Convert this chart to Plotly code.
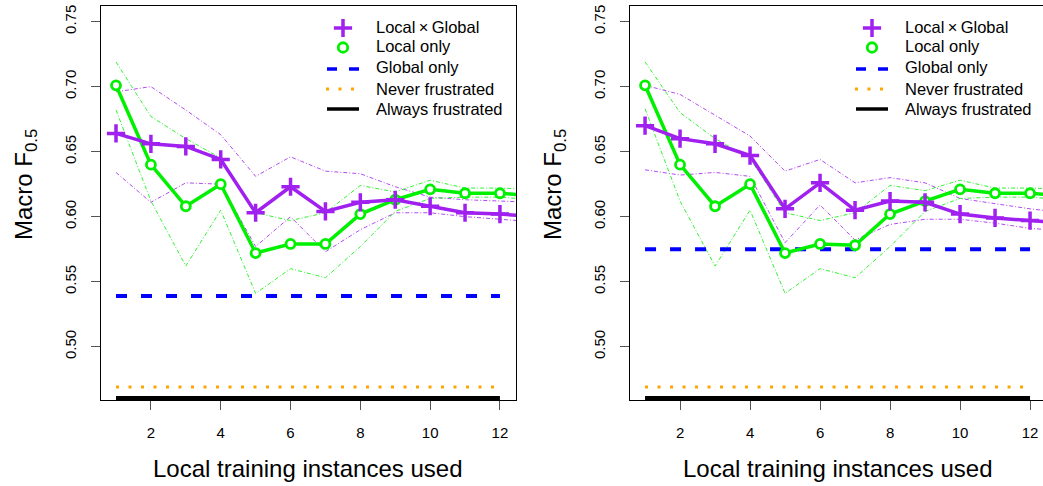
import plotly.graph_objects as go

# --- data ---
steps = list(range(1, 14))  # last point lies past the axis and is clipped

left_lxg = [0.664, 0.656, 0.654, 0.644, 0.603, 0.623, 0.604, 0.611, 0.613, 0.608, 0.603, 0.602, 0.600]
left_lxg_hi = [0.696, 0.700, 0.682, 0.663, 0.631, 0.646, 0.635, 0.633, 0.623, 0.615, 0.613, 0.612, 0.611]
left_lxg_lo = [0.634, 0.611, 0.626, 0.625, 0.577, 0.600, 0.573, 0.590, 0.603, 0.603, 0.600, 0.598, 0.596]
left_local = [0.701, 0.640, 0.608, 0.625, 0.572, 0.579, 0.579, 0.602, 0.613, 0.621, 0.618, 0.618, 0.616]
left_local_hi = [0.719, 0.677, 0.660, 0.645, 0.603, 0.597, 0.603, 0.624, 0.619, 0.628, 0.622, 0.622, 0.621]
left_local_lo = [0.682, 0.612, 0.562, 0.605, 0.541, 0.560, 0.553, 0.577, 0.604, 0.614, 0.615, 0.615, 0.613]
left_global = 0.539

right_lxg = [0.670, 0.660, 0.656, 0.647, 0.606, 0.626, 0.605, 0.612, 0.611, 0.602, 0.599, 0.597, 0.595]
right_lxg_hi = [0.701, 0.694, 0.678, 0.662, 0.635, 0.644, 0.626, 0.630, 0.626, 0.614, 0.610, 0.606, 0.603]
right_lxg_lo = [0.636, 0.632, 0.634, 0.631, 0.580, 0.609, 0.582, 0.594, 0.598, 0.598, 0.595, 0.591, 0.589]
right_local = [0.701, 0.640, 0.608, 0.625, 0.572, 0.579, 0.578, 0.602, 0.612, 0.621, 0.618, 0.618, 0.616]
right_local_hi = [0.719, 0.680, 0.660, 0.645, 0.603, 0.597, 0.603, 0.624, 0.620, 0.628, 0.622, 0.622, 0.621]
right_local_lo = [0.683, 0.612, 0.562, 0.605, 0.541, 0.560, 0.553, 0.577, 0.604, 0.614, 0.615, 0.615, 0.613]
right_global = 0.575

never_frustrated = 0.469
always_frustrated = 0.4605

y_ticks = [0.50, 0.55, 0.60, 0.65, 0.70, 0.75]
x_ticks = [2, 4, 6, 8, 10, 12]
legend_labels = ['Local\u2009\u00d7\u2009Global', 'Local only', 'Global only',
                 'Never frustrated', 'Always frustrated']

COLORS = {
    'lxg': '#A020F0',
    'local': '#00F000',
    'global': '#0000FF',
    'never': '#FFA500',
    'always': '#000000',
}
FONT = "Liberation Sans, Arial, Helvetica, sans-serif"

W, H = 1043, 486

STYLE = {
    'lxg_marker': dict(symbol='cross-thin', size=13, line=dict(color=COLORS['lxg'], width=3.5)),
    'local_marker': dict(symbol='circle', size=9, color='white', line=dict(color=COLORS['local'], width=2.8)),
    'global_line': dict(color=COLORS['global'], width=4, dash='11px,14px'),
    'never_line': dict(color=COLORS['never'], width=3, dash='3px,9.5px'),
    'always_line': dict(color=COLORS['always'], width=4),
}


def px_x(p):
    return p / W


def px_y(p):
    return 1 - p / H


fig = go.Figure()


def add_panel(xa, ya, lxg, lxg_hi, lxg_lo, local, local_hi, local_lo, global_val):
    flat_x = steps[:12]
    # confidence bands
    for vals, col in [(lxg_hi, COLORS['lxg']), (lxg_lo, COLORS['lxg']),
                      (local_hi, COLORS['local']), (local_lo, COLORS['local'])]:
        fig.add_trace(go.Scatter(x=steps, y=vals, xaxis=xa, yaxis=ya, mode='lines',
                                 line=dict(color=col, width=1, dash='4px,2px,1px,2px'),
                                 opacity=0.8, showlegend=False, hoverinfo='skip'))
    # baselines
    fig.add_trace(go.Scatter(x=flat_x, y=[always_frustrated] * len(flat_x), xaxis=xa, yaxis=ya,
                             mode='lines', line=STYLE['always_line'], showlegend=False))
    fig.add_trace(go.Scatter(x=flat_x, y=[never_frustrated] * len(flat_x), xaxis=xa, yaxis=ya,
                             mode='lines', line=STYLE['never_line'], showlegend=False))
    fig.add_trace(go.Scatter(x=flat_x, y=[global_val] * len(flat_x), xaxis=xa, yaxis=ya,
                             mode='lines', line=STYLE['global_line'], showlegend=False))
    # main series
    fig.add_trace(go.Scatter(x=steps, y=local, xaxis=xa, yaxis=ya, mode='lines+markers',
                             line=dict(color=COLORS['local'], width=3.5),
                             marker=STYLE['local_marker'], showlegend=False))
    fig.add_trace(go.Scatter(x=steps, y=lxg, xaxis=xa, yaxis=ya, mode='lines+markers',
                             line=dict(color=COLORS['lxg'], width=3.5),
                             marker=STYLE['lxg_marker'], showlegend=False))


add_panel('x', 'y', left_lxg, left_lxg_hi, left_lxg_lo,
          left_local, left_local_hi, left_local_lo, left_global)
add_panel('x2', 'y2', right_lxg, right_lxg_hi, right_lxg_lo,
          right_local, right_local_hi, right_local_lo, right_global)

# --- hand-drawn legends, on a transparent overlay axis that runs in pixels ---
sym_rows = [28, 47.5, 69, 89, 109]
text_rows = [27, 46, 67.5, 89.5, 109]
for dx in [0, 529]:
    sx = 343 + dx
    fig.add_trace(go.Scatter(x=[sx], y=[sym_rows[0]], xaxis='x3', yaxis='y3', mode='markers',
                             marker=STYLE['lxg_marker'], showlegend=False, hoverinfo='skip'))
    fig.add_trace(go.Scatter(x=[sx], y=[sym_rows[1]], xaxis='x3', yaxis='y3', mode='markers',
                             marker=dict(STYLE['local_marker'], size=9.5), showlegend=False, hoverinfo='skip'))
    fig.add_trace(go.Scatter(x=[sx - 16, sx + 16], y=[sym_rows[2]] * 2, xaxis='x3', yaxis='y3', mode='lines',
                             line=dict(color=COLORS['global'], width=3.5, dash='10px,12px'),
                             showlegend=False, hoverinfo='skip'))
    fig.add_trace(go.Scatter(x=[sx - 17, sx + 12], y=[sym_rows[3]] * 2, xaxis='x3', yaxis='y3', mode='lines',
                             line=dict(color=COLORS['never'], width=3, dash='3px,9.5px'),
                             showlegend=False, hoverinfo='skip'))
    fig.add_trace(go.Scatter(x=[sx - 16, sx + 16], y=[sym_rows[4]] * 2, xaxis='x3', yaxis='y3', mode='lines',
                             line=dict(color=COLORS['always'], width=3.5),
                             showlegend=False, hoverinfo='skip'))
    for label, ty in zip(legend_labels, text_rows):
        fig.add_annotation(x=px_x(374 + dx), y=px_y(ty), xref='paper', yref='paper', showarrow=False,
                           text=label, xanchor='left', yanchor='middle',
                           font=dict(family=FONT, size=16.5, color='black'))

y_range = [0.459, 0.762]
y_dom = [1 - 400 / H, 1 - 6 / H]

axis_common = dict(showgrid=False, zeroline=False, showline=True, linecolor='black', linewidth=1.2,
                   ticks='outside', ticklen=9, tickcolor='#555', tickwidth=1, automargin=False,
                   tickfont=dict(family=FONT, size=15, color='black'))

fig.update_layout(
    width=W, height=H,
    margin=dict(l=0, r=0, t=0, b=0, autoexpand=False),
    plot_bgcolor='rgba(0,0,0,0)', paper_bgcolor='white',
    font=dict(family=FONT, color='black'),
    showlegend=False,
    xaxis=dict(domain=[px_x(101), px_x(516)], range=[0.57, 12.46], tickvals=x_ticks,
               mirror=True, anchor='y', ticklabelstandoff=10, **axis_common),
    yaxis=dict(domain=y_dom, range=y_range, tickvals=y_ticks, tickformat='.2f', tickangle=-90,
               mirror=True, anchor='x', ticklabelstandoff=9, **axis_common),
    xaxis2=dict(domain=[px_x(630), 1.0], range=[0.57, 12.37], tickvals=x_ticks,
                mirror=True, anchor='y2', ticklabelstandoff=10, **axis_common),
    yaxis2=dict(domain=y_dom, range=y_range, tickvals=y_ticks, tickformat='.2f', tickangle=-90,
                mirror=False, anchor='x2', ticklabelstandoff=9, **axis_common),
    xaxis3=dict(domain=[0, 1], range=[0, W], visible=False, anchor='y3', fixedrange=True),
    yaxis3=dict(domain=[0, 1], range=[H, 0], visible=False, anchor='x3', fixedrange=True),
)

# axis titles
for cx, ty in [(25, 185), (554, 185)]:
    fig.add_annotation(x=px_x(cx), y=px_y(ty), xref='paper', yref='paper', showarrow=False,
                       text='Macro F<sub>0.5</sub>', textangle=-90, xanchor='center', yanchor='middle',
                       font=dict(family=FONT, size=24, color='black'))
for cx in [308, 838]:
    fig.add_annotation(x=px_x(cx), y=px_y(468), xref='paper', yref='paper', showarrow=False,
                       text='Local training instances used', xanchor='center', yanchor='middle',
                       font=dict(family=FONT, size=24, color='black'))

# the page body has a default 8px margin; drop it so the figure fills the window
fig.write_html("out.html", config={'displayModeBar': False},
               post_script="document.body.style.margin='0';")
